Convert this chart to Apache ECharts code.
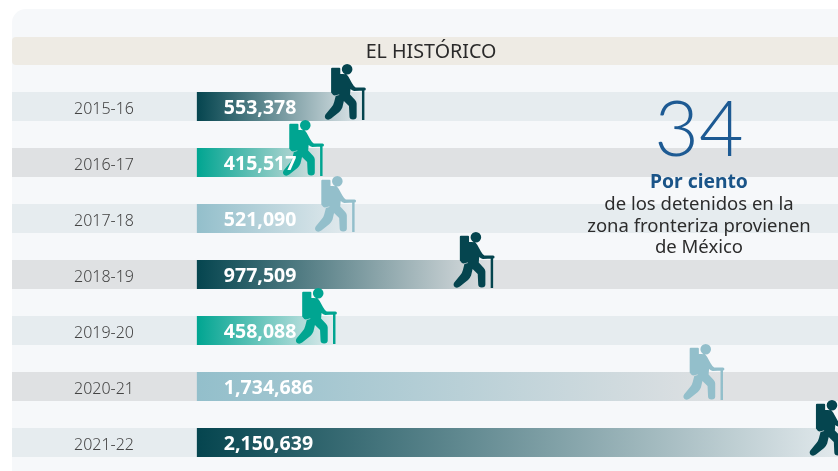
<!DOCTYPE html>
<html>
<head>
<meta charset="utf-8">
<style>
html, body { margin: 0; padding: 0; background: #fff; }
#chart { width: 838px; height: 471px; }
</style>
<script src="https://cdn.jsdelivr.net/npm/echarts@6/dist/echarts.min.js"></script>
</head>
<body>
<div id="chart"></div>
<script>
var periods = ['2015-16', '2016-17', '2017-18', '2018-19', '2019-20', '2020-21', '2021-22'];
var detained = [553378, 415517, 521090, 977509, 458088, 1734686, 2150639];
var barColors = ['#05454f', '#00a591', '#93bfcb', '#05454f', '#00a591', '#93bfcb', '#05454f'];
var bandColors = ['#e6ecef', '#dfe1e3', '#e6ecef', '#dfe1e3', '#e6ecef', '#dfe1e3', '#e6ecef'];
var title = 'EL HISTÓRICO';
var bigNumber = '34';
var noteHead = 'Por ciento';
var noteLines = ['de los detenidos en la', 'zona fronteriza provienen', 'de México'];

// caminante, coordenadas locales de 41x56
var hiker = 'path://M22.7 0.2A5.2 5.2 0 1 1 22.69 0.2Z' +
    'M8 4L15 4Q16 4 16 5L16 29Q16 30 14.5 30.5L10.5 31.5Q8.5 31 7 28.5L7 5Q7 4 8 4Z' +
    'M15 10L21.5 10.5Q23 11 24 13L27.5 19.5Q29 22.5 31 23.5L39.5 23.5Q41 23.5 41 25Q41 26.5 39.5 26.5L29.5 27Q27.5 26.5 26 25L25.5 30.5L30.5 36Q32 37.5 32 39.5L32 52.5Q32 55.5 28.5 55.5Q25 55.5 25 52.5L24.5 42L19.5 37L18 43.5Q17 46 15 48L7 54.5Q4.5 56.5 2 55Q0 53 1.5 50.5L7.5 43Q9.5 40.5 10 38L11.5 32L15 31L15 10Z' +
    'M37.2 26.5L39.6 26.5L39.6 56L37.2 56Z';

var chart = echarts.init(document.getElementById('chart'));

chart.setOption({
    animation: false,
    backgroundColor: '#fff',
    textStyle: { fontFamily: '"Noto Sans"' },
    grid: { left: 12, top: 78.5, width: 883, height: 392, outerBoundsMode: 'none' },
    xAxis: { type: 'value', min: -609000, max: 2300000, show: false },
    yAxis: {
        type: 'category',
        inverse: true,
        data: periods,
        axisLine: { show: false },
        axisTick: { show: false },
        splitLine: { show: false },
        z: 6,
        axisLabel: {
            inside: true,
            margin: 92,
            align: 'center',
            verticalAlign: 'top',
            lineHeight: 5,
            fontSize: 16,
            fontWeight: 300,
            color: '#444'
        }
    },
    graphic: [
        { type: 'rect', z: -10, shape: { x: 12, y: 9, width: 830, height: 470, r: [14, 6, 0, 0] }, style: { fill: '#f6f8fa' } },
        { type: 'rect', z: -9, shape: { x: 12, y: 37, width: 830, height: 28, r: 4 }, style: { fill: '#eeebe4' } },
        { type: 'text', z: 10, style: { x: 431, y: 52, text: title, fill: '#2a2a2a', font: '19.7px "Noto Sans"', align: 'center', verticalAlign: 'middle' } },
        { type: 'text', z: 10, style: { x: 699, y: 131, text: bigNumber, fill: '#1d5a93', font: '300 77px Lato', align: 'center', verticalAlign: 'middle' } },
        { type: 'text', z: 10, style: { x: 699, y: 183, text: noteHead, fill: '#1a5488', font: 'bold 19.3px "Noto Sans"', align: 'center', verticalAlign: 'middle' } },
        { type: 'text', z: 10, style: { x: 699, y: 205, text: noteLines[0], fill: '#2c2c2c', font: '18.5px "Noto Sans"', align: 'center', verticalAlign: 'middle' } },
        { type: 'text', z: 10, style: { x: 699, y: 227, text: noteLines[1], fill: '#2c2c2c', font: '18.5px "Noto Sans"', align: 'center', verticalAlign: 'middle' } },
        { type: 'text', z: 10, style: { x: 699, y: 248, text: noteLines[2], fill: '#2c2c2c', font: '18.5px "Noto Sans"', align: 'center', verticalAlign: 'middle' } }
    ],
    series: [
        {
            // franjas de fondo de cada fila
            type: 'custom',
            z: 1,
            silent: true,
            clip: false,
            data: periods.map(function (p, i) { return [i]; }),
            encode: { y: 0 },
            renderItem: function (params, api) {
                var c = api.coord([0, api.value(0)]);
                return {
                    type: 'rect',
                    shape: { x: 12, y: c[1] - 14.5, width: 826, height: 29 },
                    style: { fill: bandColors[params.dataIndex] }
                };
            }
        },
        {
            name: 'barras',
            type: 'bar',
            z: 2,
            barWidth: 29,
            silent: true,
            data: detained.map(function (v, i) {
                return {
                    value: v,
                    itemStyle: {
                        color: new echarts.graphic.LinearGradient(0, 0, 1, 0, [
                            { offset: 0, color: barColors[i] },
                            { offset: 1, color: bandColors[i] }
                        ])
                    }
                };
            })
        },
        {
            name: 'caminantes',
            type: 'scatter',
            z: 3,
            silent: true,
            symbol: hiker,
            symbolSize: [41, 56],
            symbolOffset: [-19.5, -14.5],
            symbolKeepAspect: false,
            clip: false,
            data: detained.map(function (v, i) {
                return { value: [v, periods[i]], itemStyle: { color: barColors[i], opacity: 1 } };
            })
        },
        {
            // cifras por encima de los caminantes
            name: 'cifras',
            type: 'bar',
            z: 5,
            barWidth: 29,
            barGap: '-100%',
            silent: true,
            itemStyle: { color: 'rgba(0,0,0,0)' },
            label: {
                show: true,
                position: 'insideLeft',
                distance: 27,
                offset: [0, 2],
                color: '#fff',
                fontSize: 19.5,
                fontWeight: 'bold',
                formatter: function (p) { return p.value.toLocaleString('en-US'); }
            },
            data: detained
        }
    ]
});
</script>
</body>
</html>
